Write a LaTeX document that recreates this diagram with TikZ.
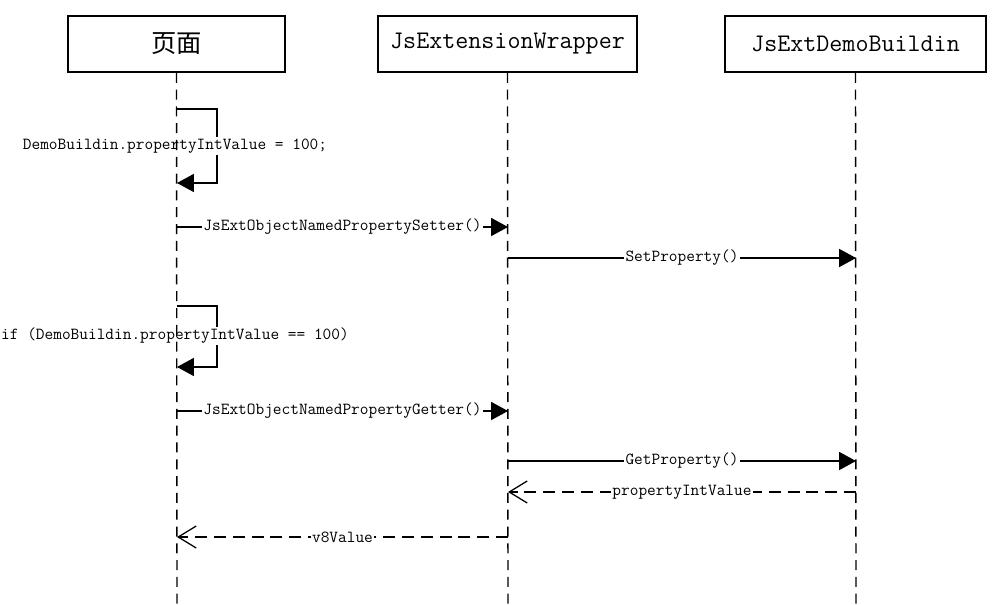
\documentclass[tikz,border=0pt]{standalone}
\usepackage{fontspec}
\newfontfamily\cjk{Noto Sans CJK SC}
\usetikzlibrary{arrows.meta}

\tikzset{
	objbox/.style={draw, line width=1.1pt, minimum height=1.4cm, inner sep=0pt,
		font=\fontsize{18pt}{20pt}\selectfont\ttfamily},
	lifeline/.style={line width=1pt, dash pattern=on 0.25cm off 0.17cm},
	call/.style={line width=0.9pt, -{Triangle[length=0.42cm, width=0.45cm]}},
	reply/.style={line width=0.9pt, dash pattern=on 0.3cm off 0.17cm,
		-{Straight Barb[length=0.45cm, width=0.55cm]}},
	msg/.style={fill=white, inner sep=1pt, font=\fontsize{12pt}{13pt}\selectfont\ttfamily}
}

\begin{document}
\begin{tikzpicture}[x=0.025cm, y=-0.025cm]
	\useasboundingbox (0,0) rectangle (993,605);
	
	%Objects
	\node[objbox, minimum width=5.425cm] (page) at (176.5,44) {\cjk 页面};
	\node[objbox, minimum width=6.475cm] (wrap) at (507.5,44) {JsExtensionWrapper};
	\node[objbox, minimum width=6.525cm] (demo) at (855.5,44) {JsExtDemoBuildin};
	
	%Points on the lifelines
	\foreach \y/\n in {109/a, 183/b, 227/c, 258/d, 306/e, 367/f, 411/g, 461/h, 492/i, 537/j, 605/end}{
		\coordinate (page-\n) at (177,\y);
		\coordinate (wrap-\n) at (508,\y);
		\coordinate (demo-\n) at (856,\y);
	}
	
	%Setter
	\draw[call] (page-a) -- ++(40,0) |- (page-b);
	\node[msg] (set1) at (175,146) {DemoBuildin.propertyIntValue = 100;};
	\draw[call] (page-c) -- (wrap-c) node[msg, midway] (set2) {JsExtObjectNamedPropertySetter()};
	\draw[call] (wrap-d) -- (demo-d) node[msg, midway] (set3) {SetProperty()};
	
	%Getter
	\draw[call] (page-e) -- ++(40,0) |- (page-f);
	\node[msg] (get1) at (175,336) {if (DemoBuildin.propertyIntValue == 100)};
	\draw[call] (page-g) -- (wrap-g) node[msg, midway] (get2) {JsExtObjectNamedPropertyGetter()};
	\draw[call] (wrap-h) -- (demo-h) node[msg, midway] (get3) {GetProperty()};
	\draw[reply] (demo-i) -- (wrap-i) node[msg, midway] (ret1) {propertyIntValue};
	\draw[reply] (wrap-j) -- (page-j) node[msg, midway] (ret2) {v8Value};
	
	%Lifelines
	\draw[lifeline] (page.south) -- (page-end);
	\draw[lifeline] (wrap.south) -- (wrap-end);
	\draw[lifeline] (demo.south) -- (demo-end);
\end{tikzpicture}
\end{document}
